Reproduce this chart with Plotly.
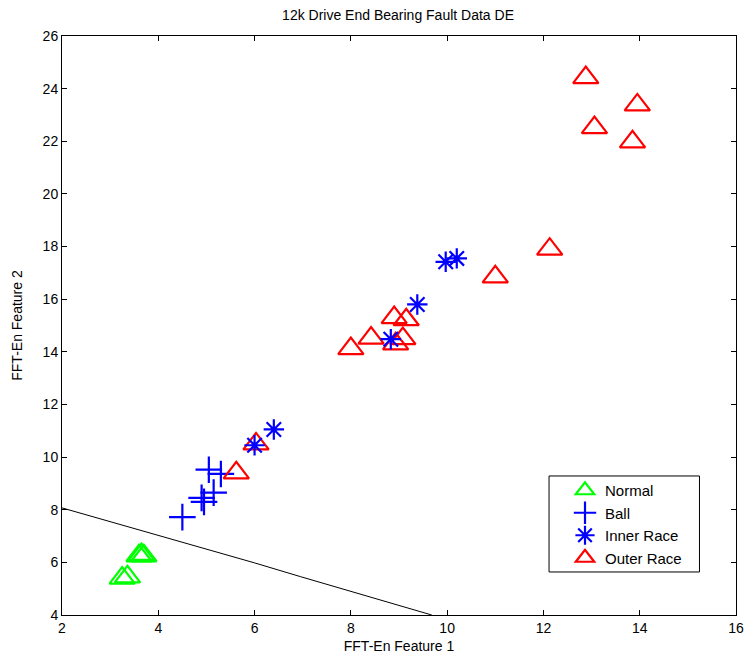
import plotly.graph_objects as go

# Feature-space coordinates for each bearing condition
normal_x = [3.25, 3.36, 3.60, 3.65, 3.70]
normal_y = [5.40, 5.45, 6.25, 6.30, 6.25]

ball_x = [4.50, 4.90, 4.95, 5.15, 5.05, 5.30]
ball_y = [7.72, 8.45, 8.30, 8.65, 9.52, 9.36]

inner_x = [6.00, 6.40, 8.83, 9.38, 9.97, 10.20]
inner_y = [10.45, 11.05, 14.48, 15.80, 17.42, 17.55]

outer_x = [5.62, 6.03, 8.00, 8.42, 8.90, 9.15, 9.08, 8.93, 11.00, 12.13, 12.88, 13.95, 13.06, 13.85]
outer_y = [9.40, 10.50, 14.12, 14.52, 15.30, 15.22, 14.50, 14.30, 16.85, 17.90, 24.42, 23.38, 22.52, 21.98]

# Decision boundary separating the normal class
boundary_x = [2.0, 3.0, 3.93, 4.97, 6.0, 6.95, 8.0, 9.0, 9.68]
boundary_y = [8.07, 7.55, 7.07, 6.50, 5.98, 5.46, 4.89, 4.37, 4.0]

font = "Liberation Sans, Arial, sans-serif"

fig = go.Figure()

fig.add_trace(go.Scatter(
    x=boundary_x, y=boundary_y, mode="lines",
    line=dict(color="black", width=1), showlegend=False, hoverinfo="skip"))

fig.add_trace(go.Scatter(
    x=normal_x, y=normal_y, mode="markers", name="Normal", legendrank=1,
    marker=dict(symbol="triangle-up-open", size=22, color="#00ff00",
                line=dict(width=2.2, color="#00ff00"))))

fig.add_trace(go.Scatter(
    x=ball_x, y=ball_y, mode="markers", name="Ball", legendrank=2,
    marker=dict(symbol="cross-thin-open", size=19, color="#0000ff",
                line=dict(width=2.2, color="#0000ff"))))

fig.add_trace(go.Scatter(
    x=outer_x, y=outer_y, mode="markers", name="Outer Race", legendrank=4,
    marker=dict(symbol="triangle-up-open", size=22, color="#ff0000",
                line=dict(width=2.2, color="#ff0000"))))

fig.add_trace(go.Scatter(
    x=inner_x, y=inner_y, mode="markers", name="Inner Race", legendrank=3,
    marker=dict(symbol="asterisk-open", size=17, color="#0000ff",
                line=dict(width=2.2, color="#0000ff"))))

axis_common = dict(
    showgrid=False, zeroline=False, showline=True, linecolor="black",
    linewidth=1, mirror="ticks", ticks="inside", ticklen=5,
    tickcolor="black", tickfont=dict(family=font, size=14, color="black"),
    dtick=2, automargin=False,
)

fig.update_layout(
    width=744, height=656,
    margin=dict(l=62, r=8, t=36, b=41),
    paper_bgcolor="white", plot_bgcolor="white",
    font=dict(family=font, size=14, color="black"),
    title=dict(text="12k Drive End Bearing Fault Data DE", x=0.535,
               xanchor="center", y=0.985, yanchor="top",
               font=dict(family=font, size=14, color="black")),
    xaxis=dict(range=[2, 16], tick0=2,
               title=dict(text="FFT-En Feature 1", standoff=6,
                          font=dict(family=font, size=14)),
               **axis_common),
    yaxis=dict(range=[4, 26], tick0=4,
               title=dict(text="FFT-En Feature 2", standoff=16,
                          font=dict(family=font, size=14)),
               **axis_common),
    legend=dict(x=0.7463, y=0.2435, xanchor="left", yanchor="top",
                borderwidth=0, bgcolor="rgba(0,0,0,0)",
                font=dict(family=font, size=15), tracegroupgap=0,
                traceorder="normal"),
    # frame drawn around the legend entries
    shapes=[dict(type="rect", xref="paper", yref="paper",
                 x0=0.7226, x1=0.9458, y0=0.0743, y1=0.2401,
                 line=dict(color="black", width=1), fillcolor="white",
                 layer="above")],
)

fig.write_html("out.html")
